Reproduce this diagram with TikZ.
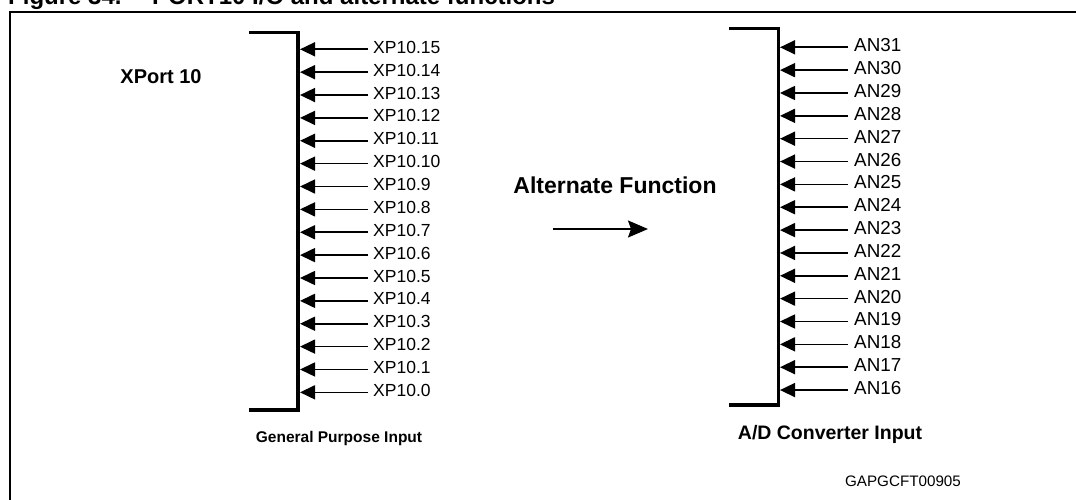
\documentclass[tikz,border=0pt]{standalone}
\usepackage{fontspec}
\setmainfont{Liberation Sans}
\usetikzlibrary{arrows.meta}
\begin{document}
\begin{tikzpicture}[x=1pt,y=-1pt,
  frame/.style={line width=2.4pt},
  bracket/.style={line width=3.6pt, line join=miter},
  pin/.style={line width=1.6pt, -{Triangle[length=15pt,width=14pt]}},
  leftlab/.style={anchor=west, inner sep=0pt, font=\fontsize{17.5}{20}\selectfont},
  rightlab/.style={anchor=west, inner sep=0pt, font=\fontsize{18.8}{21}\selectfont},
  bold/.style={inner sep=0pt, font=\bfseries\fontsize{#1}{#1}\selectfont},
  code/.style={inner sep=0pt, font=\fontsize{15.2}{17}\selectfont},
  flow/.style={line width=1.6pt, -{Stealth[length=20pt,width=17pt,inset=3pt]}}]
\useasboundingbox (0,0) rectangle (1076,500);
\clip (0,0) rectangle (1076,500);
% title (clipped at the top)
\node[bold=24, anchor=base west] (fig) at (8,5) {Figure 34.};
\node[bold=24, anchor=base west] (ttl) at (152,5) {PORT10 I/O and alternate functions};
% frame
\draw[frame] (10,500) -- (10,12) -- (1076,12);
% left bracket
\draw[bracket] (249,32.5) -- (298,32.5) -- (298,410) -- (249,410);
\foreach \i in {0,...,15}{
  \pgfmathsetmacro\yy{49.3+(15-\i)*22.87}
  \coordinate (ls\i) at (368,\yy);
  \coordinate (lt\i) at (300,\yy);
  \node[leftlab] (xp\i) at (373,\yy-2) {XP10.\i};
  \draw[pin] (ls\i) -- (lt\i);
}
% right bracket
\draw[bracket] (729,28.5) -- (778.5,28.5) -- (778.5,405) -- (729,405);
\foreach \k in {16,...,31}{
  \pgfmathsetmacro\yy{47.3+(31-\k)*22.85}
  \coordinate (rs\k) at (848,\yy);
  \coordinate (rt\k) at (780,\yy);
  \node[rightlab] (an\k) at (854,\yy-2) {AN\k};
  \draw[pin] (rs\k) -- (rt\k);
}
% labels
\node[bold=20] (xport) at (161,77) {XPort 10};
\node[bold=23] (alt) at (615,185) {Alternate Function};
\node[bold=15.5] (gpi) at (339,438) {General Purpose Input};
\node[bold=19.5] (adc) at (830,434) {A/D Converter Input};
\node[code] (id) at (903,481) {GAPGCFT00905};
% middle arrow
\coordinate (ma) at (553,229);
\coordinate (mb) at (648,229);
\draw[flow] (ma) -- (mb);
\end{tikzpicture}
\end{document}
